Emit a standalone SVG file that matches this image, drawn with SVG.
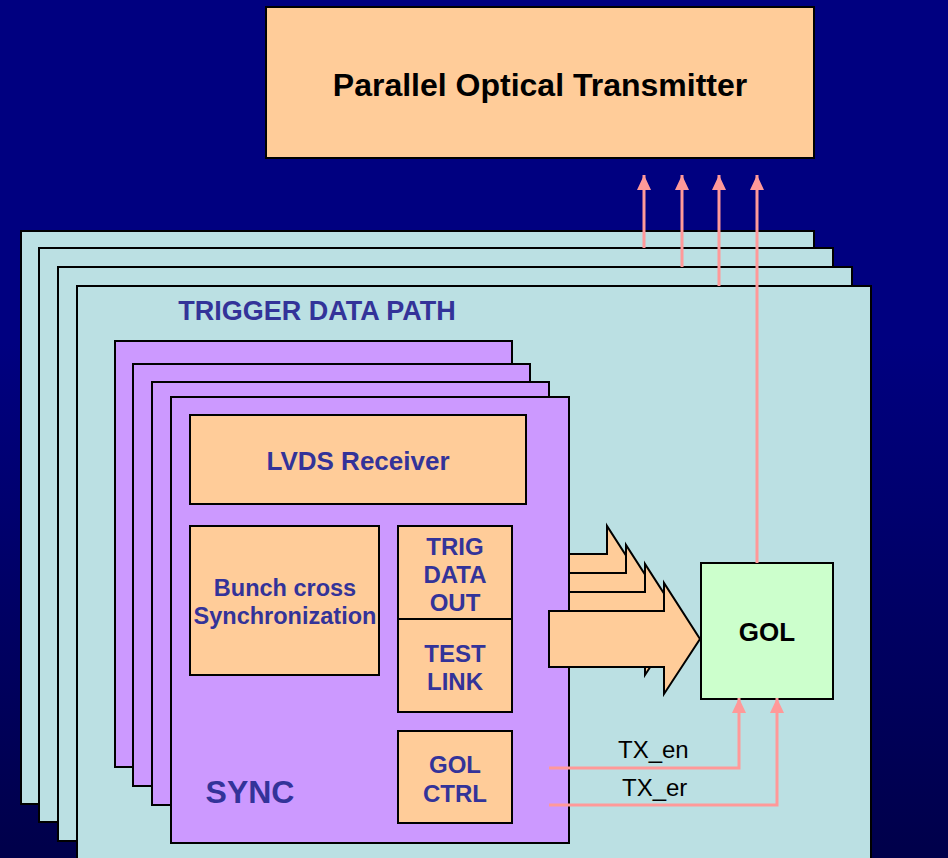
<svg xmlns="http://www.w3.org/2000/svg" width="948" height="858" viewBox="0 0 948 858">
<style>
.cy{fill:#BBE0E3;stroke:#000;stroke-width:2}
.pu{fill:#CC99FF;stroke:#000;stroke-width:2}
.or{fill:#FFCC99;stroke:#000;stroke-width:2}
.ba{fill:#FFCC99;stroke:#000;stroke-width:2;stroke-linejoin:miter}
.t{font-family:"Liberation Sans",Arial,sans-serif;font-weight:bold;fill:#333399;text-anchor:middle}
.k{font-family:"Liberation Sans",Arial,sans-serif;font-weight:bold;fill:#000;text-anchor:middle}
.pk{stroke:#FF9999;stroke-width:3;fill:none}
.lbl{font-family:"Liberation Sans",Arial,sans-serif;font-size:24px;fill:#000}
</style>
<defs>
<linearGradient id="bg" x1="0" y1="0" x2="0" y2="1">
<stop offset="0" stop-color="#000080"/>
<stop offset="0.4" stop-color="#000080"/>
<stop offset="1" stop-color="#00004a"/>
</linearGradient>
<marker id="ah" markerWidth="16" markerHeight="16" viewBox="0 0 16 16" refX="15" refY="8" orient="auto" markerUnits="userSpaceOnUse">
<path d="M0,1 L15,8 L0,15 Z" fill="#FF9999"/>
</marker>
</defs>
<rect x="0" y="0" width="948" height="858" fill="url(#bg)"/>

<g id="pot">
<rect class="or" x="266" y="7" width="548" height="151"/>
<text class="k" x="540" y="96" font-size="32">Parallel Optical Transmitter</text>
</g>

<g id="trigger-data-path">
<rect class="cy" x="21" y="231" width="793" height="573"/>
<rect class="cy" x="39" y="248" width="794" height="574"/>
<rect class="cy" x="58" y="267" width="794" height="574"/>
<rect class="cy" x="77" y="286" width="794" height="590"/>
<text class="t" x="317" y="320" font-size="27">TRIGGER DATA PATH</text>
</g>

<g id="sync-stack">
<rect class="pu" x="115" y="341" width="397" height="426"/>
<rect class="pu" x="133" y="364" width="397" height="422"/>
<rect class="pu" x="152" y="382" width="397" height="423"/>
</g>

<g id="data-arrows-back">
<path class="ba" d="M540,554 H607 V526 L643,582 L607,637 V610 H540 Z"/>
<path class="ba" d="M540,573 H626 V545 L662,601 L626,656 V629 H540 Z"/>
<path class="ba" d="M540,592 H645 V564 L681,620 L645,675 V648 H540 Z"/>
</g>

<g id="sync">
<rect class="pu" x="171" y="397" width="398" height="446"/>
<text class="t" x="250" y="803" font-size="32">SYNC</text>
</g>

<g id="lvds">
<rect class="or" x="190" y="415" width="336" height="89"/>
<text class="t" x="358" y="470" font-size="26">LVDS Receiver</text>
</g>

<g id="bunch">
<rect class="or" x="190" y="526" width="189" height="149"/>
<text class="t" x="285" y="596" font-size="23.5">Bunch cross</text>
<text class="t" x="285" y="624" font-size="23.5">Synchronization</text>
</g>

<g id="trig-data-out">
<rect class="or" x="398" y="526" width="114" height="93"/>
<text class="t" x="455" y="555" font-size="24">TRIG</text>
<text class="t" x="455" y="583" font-size="24">DATA</text>
<text class="t" x="455" y="611" font-size="24">OUT</text>
</g>

<g id="test-link">
<rect class="or" x="398" y="619" width="114" height="93"/>
<text class="t" x="455" y="662" font-size="24">TEST</text>
<text class="t" x="455" y="690" font-size="24">LINK</text>
</g>

<g id="gol-ctrl">
<rect class="or" x="398" y="731" width="114" height="92"/>
<text class="t" x="455" y="773" font-size="24">GOL</text>
<text class="t" x="455" y="802" font-size="24">CTRL</text>
</g>

<g id="data-arrow-front">
<path class="ba" d="M549,611 H664 V583 L700,639 L664,694 V667 H549 Z"/>
</g>

<g id="gol">
<rect x="701" y="563" width="132" height="136" fill="#CCFFCC" stroke="#000" stroke-width="2"/>
<text class="k" x="767" y="641" font-size="26">GOL</text>
</g>

<g id="connectors">
<path class="pk" d="M644,248 V175" marker-end="url(#ah)"/>
<path class="pk" d="M682,267 V175" marker-end="url(#ah)"/>
<path class="pk" d="M719,286 V175" marker-end="url(#ah)"/>
<path class="pk" d="M757,563 V175" marker-end="url(#ah)"/>
<path class="pk" d="M549,768 H739 V698" marker-end="url(#ah)"/>
<path class="pk" d="M549,805 H777 V698" marker-end="url(#ah)"/>
<text class="lbl" x="618" y="758">TX_en</text>
<text class="lbl" x="622" y="796">TX_er</text>
</g>
</svg>
